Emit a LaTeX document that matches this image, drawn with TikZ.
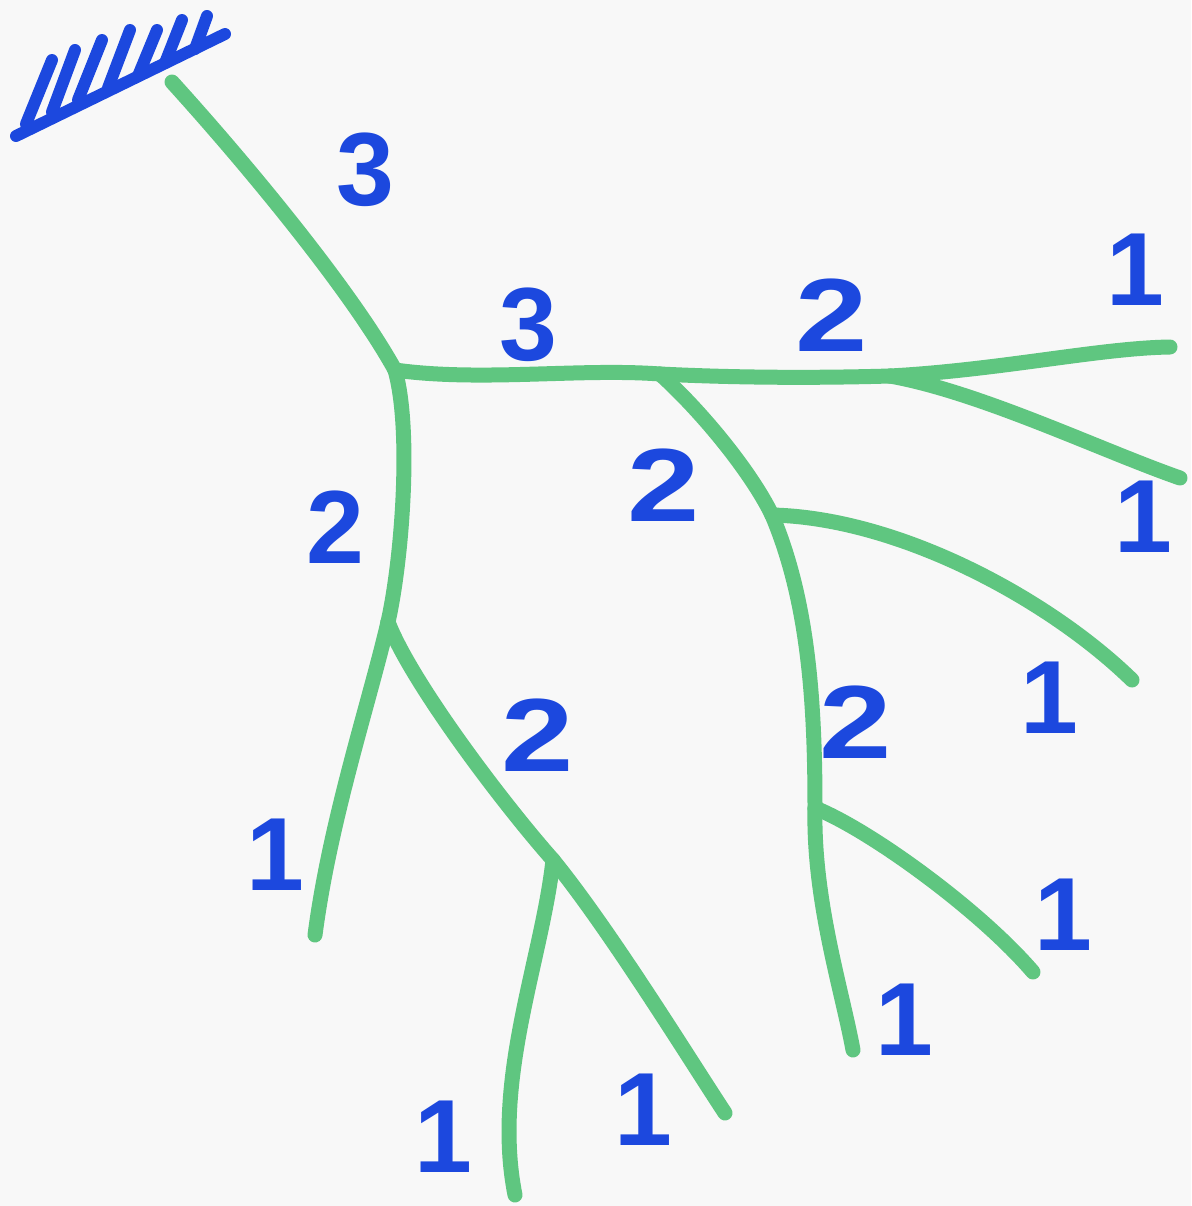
\documentclass[tikz,border=0pt]{standalone}
\usepackage{fontspec}
\setmainfont{Liberation Sans}
\definecolor{paper}{RGB}{248,248,248}
\definecolor{twig}{RGB}{95,198,128}
\definecolor{ink}{RGB}{28,72,222}
\tikzset{
  branch/.style={draw=twig, line width=7.5pt, line cap=round, line join=round},
  hatch/.style={draw=ink, line width=6pt, line cap=round},
  order/.style={text=ink, font=\fontsize{52}{52}\selectfont\bfseries, inner sep=0pt},
  wide/.style={xscale=1.25}
}
\begin{document}
\begin{tikzpicture}[x=0.5pt,y=-0.5pt]
\fill[paper] (0,0) rectangle (1191,1206);
\useasboundingbox (0,0) rectangle (1191,1206);
% ground
\coordinate (g0) at (16,136);
\coordinate (g1) at (225,34);
\draw[hatch] (g0) -- (g1);
\foreach \bx/\by/\tx/\ty [count=\i] in {26/124/52/60, 52/112/75/50, 78/100/102/40, 108/88/130/30, 138/76/157/30, 165/63/182/20, 195/49/207/16}{
  \coordinate (hb\i) at (\bx,\by);
  \coordinate (ht\i) at (\tx,\ty);
  \draw[hatch] (hb\i) -- (ht\i);
}
% tree coordinates
\coordinate (root) at (172,82);
\coordinate (A) at (395,370);
\coordinate (B) at (660,374);
\coordinate (C) at (890,376);
\coordinate (Rend) at (1170,347);
\coordinate (Cend) at (1180,478);
\coordinate (D) at (772,515);
\coordinate (Dend) at (1132,680);
\coordinate (E) at (815,808);
\coordinate (Eend) at (1033,972);
\coordinate (Bend) at (853,1050);
\coordinate (G) at (388,622);
\coordinate (Gend) at (315,935);
\coordinate (F) at (553,860);
\coordinate (Fleft) at (515,1195);
\coordinate (Fright) at (725,1113);
% branches
\draw[branch] (root) .. controls (250,168) and (352,292) .. (A);
\draw[branch] (A) .. controls (480,382) and (580,368) .. (B);
\draw[branch] (B) .. controls (740,378) and (820,378) .. (C);
\draw[branch] (C) .. controls (1000,370) and (1100,348) .. (Rend);
\draw[branch] (C) .. controls (980,392) and (1100,450) .. (Cend);
\draw[branch] (B) .. controls (700,410) and (750,470) .. (D);
\draw[branch] (D) .. controls (808,600) and (815,700) .. (E);
\draw[branch] (D) .. controls (900,518) and (1050,600) .. (Dend);
\draw[branch] (E) .. controls (870,830) and (980,910) .. (Eend);
\draw[branch] (E) .. controls (813,900) and (842,990) .. (Bend);
\draw[branch] (A) .. controls (412,430) and (402,560) .. (G);
\draw[branch] (G) .. controls (370,700) and (330,820) .. (Gend);
\draw[branch] (G) .. controls (410,680) and (500,800) .. (F);
\draw[branch] (F) .. controls (542,960) and (492,1080) .. (Fleft);
\draw[branch] (F) .. controls (610,930) and (690,1060) .. (Fright);
% order labels
\node[order] (l1) at (365,170) {3};
\node[order] (l2) at (528,325) {3};
\node[order,wide] (l3) at (832,315) {2};
\node[order] (l4) at (1135,270) {1};
\node[order] (l5) at (1143,517) {1};
\node[order] (l6) at (335,527) {2};
\node[order,wide] (l7) at (664,485) {2};
\node[order] (l8) at (1049,698) {1};
\node[order,wide] (l9) at (538,735) {2};
\node[order,wide] (l10) at (856,722) {2};
\node[order] (l11) at (275,855) {1};
\node[order] (l12) at (1063,915) {1};
\node[order] (l13) at (904,1020) {1};
\node[order] (l14) at (443,1137) {1};
\node[order] (l15) at (643,1110) {1};
\end{tikzpicture}
\end{document}
